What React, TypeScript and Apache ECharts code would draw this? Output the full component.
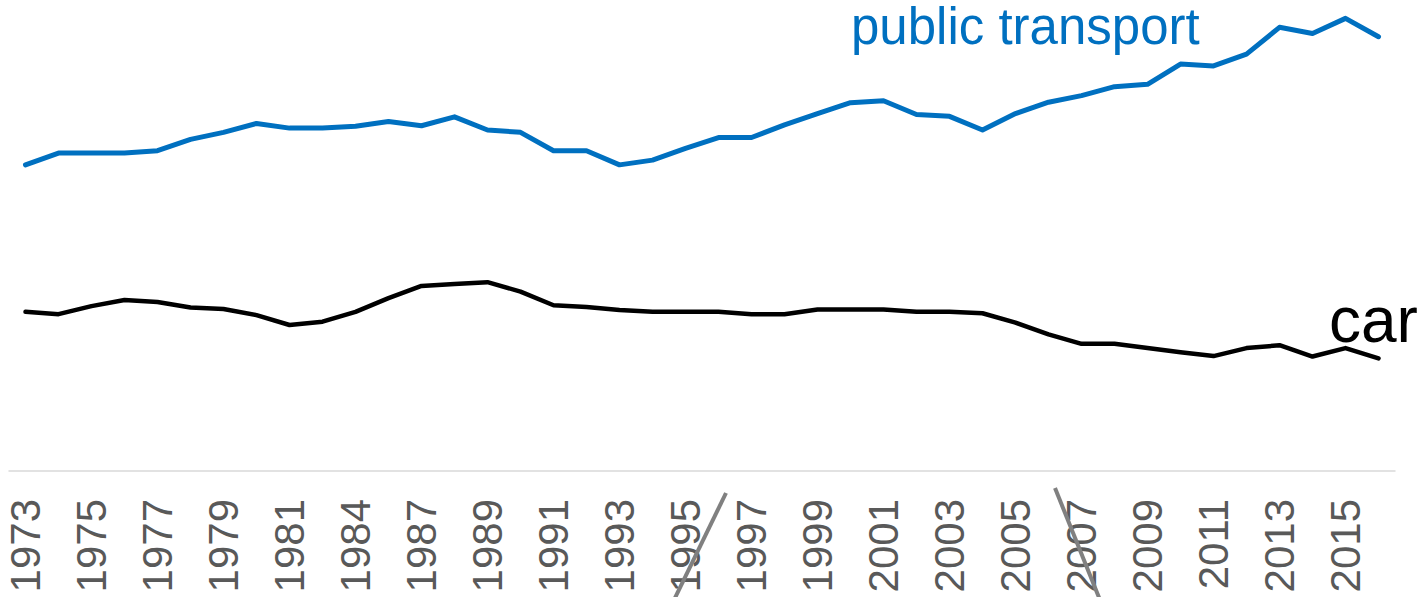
import React, { useEffect, useRef } from "react";
import * as echarts from "echarts";

const years = [
  "1973", "1974", "1975", "1976", "1977", "1978", "1979", "1980", "1981", "1982",
  "1984", "1985", "1987", "1988", "1989", "1990", "1991", "1992", "1993", "1994",
  "1995", "1996", "1997", "1998", "1999", "2000", "2001", "2002", "2003", "2004",
  "2005", "2006", "2007", "2008", "2009", "2010", "2011", "2012", "2013", "2014",
  "2015", "2016",
];

const publicTransport = [
  65.0, 67.5, 67.5, 67.5, 68.0, 70.4, 71.9, 73.8, 72.8, 72.8,
  73.2, 74.2, 73.3, 75.2, 72.4, 71.9, 68.0, 68.0, 65.0, 66.0,
  68.5, 70.8, 70.8, 73.5, 75.9, 78.2, 78.6, 75.7, 75.3, 72.4,
  75.9, 78.3, 79.7, 81.6, 82.1, 86.4, 86.0, 88.5, 94.2, 92.9,
  96.1, 92.2,
];

const car = [
  33.8, 33.3, 35.0, 36.3, 35.9, 34.7, 34.4, 33.1, 31.0, 31.7,
  33.8, 36.7, 39.3, 39.7, 40.1, 38.1, 35.2, 34.8, 34.2, 33.8,
  33.8, 33.8, 33.3, 33.3, 34.3, 34.3, 34.3, 33.8, 33.8, 33.5,
  31.5, 29.0, 27.0, 27.0, 26.1, 25.2, 24.4, 26.1, 26.7, 24.3,
  26.1, 23.9,
];

const seriesNames = ["public transport", "car"];

const FONT = "'Liberation Sans', Arial, Helvetica, sans-serif";

export default function App() {
  const ref = useRef<HTMLDivElement>(null);

  useEffect(() => {
    if (!ref.current) return;
    const chart = echarts.init(ref.current, null, { renderer: "svg" });
    chart.setOption({
      animation: false,
      backgroundColor: "#ffffff",
      grid: {
        left: 9,
        right: 27,
        top: 0,
        bottom: 126,
        containLabel: false,
        outerBoundsMode: "none",
      },
      xAxis: {
        type: "category",
        data: years,
        boundaryGap: true,
        axisLine: { show: true, lineStyle: { color: "#d9d9d9", width: 1.5 } },
        axisTick: { show: false },
        axisLabel: {
          interval: 1,
          rotate: 90,
          margin: 28,
          color: "#595959",
          fontSize: 42,
          fontFamily: FONT,
        },
        splitLine: { show: false },
      },
      yAxis: {
        type: "value",
        min: 0,
        max: 100,
        show: false,
        splitLine: { show: false },
      },
      series: [
        {
          name: seriesNames[0],
          type: "line",
          data: publicTransport,
          symbol: "none",
          lineStyle: { color: "#0070c0", width: 5, cap: "round", join: "round" },
          itemStyle: { color: "#0070c0" },
        },
        {
          name: seriesNames[1],
          type: "line",
          data: car,
          symbol: "none",
          lineStyle: { color: "#000000", width: 4.5, cap: "round", join: "round" },
          itemStyle: { color: "#000000" },
        },
      ],
      graphic: [
        {
          type: "text",
          left: 851,
          top: 1,
          style: {
            text: seriesNames[0],
            fill: "#0070c0",
            font: `51px ${FONT}`,
          },
        },
        {
          type: "text",
          left: 1329,
          top: 288,
          style: {
            text: seriesNames[1],
            fill: "#000000",
            font: `64px ${FONT}`,
          },
        },
        {
          type: "line",
          shape: { x1: 726, y1: 493, x2: 674, y2: 600 },
          style: { stroke: "#808080", lineWidth: 4 },
          z: 10,
        },
        {
          type: "line",
          shape: { x1: 1055, y1: 488, x2: 1100, y2: 600 },
          style: { stroke: "#808080", lineWidth: 4 },
          z: 10,
        },
      ],
    });
    return () => chart.dispose();
  }, []);

  return (
    <div
      ref={ref}
      style={{ position: "fixed", left: 0, top: 0, width: 1422, height: 597 }}
    />
  );
}
